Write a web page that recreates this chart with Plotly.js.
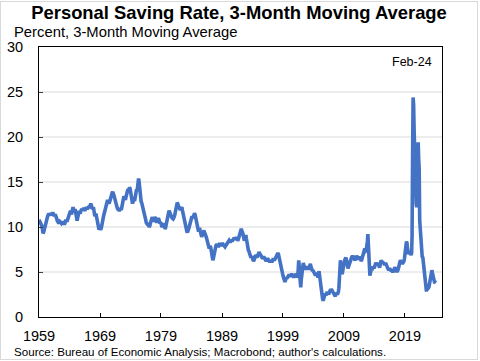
<!DOCTYPE html>
<html>
<head>
<meta charset="utf-8">
<script src="https://cdn.plot.ly/plotly-3.0.1.min.js"></script>
<style>
  html, body { margin: 0; padding: 0; background: #ffffff; }
  #wrap { position: relative; width: 480px; height: 361px; overflow: hidden; }
  #chart { position: absolute; left: 0; top: 0; width: 480px; height: 361px; }
  #frame { position: absolute; left: 0; top: 1px; width: 476px; height: 357px; border: 1px solid #d9d9d9; pointer-events: none; }
</style>
</head>
<body>
<div id="wrap"><div id="chart"></div><div id="frame"></div></div>
<script>
// Personal saving rate, 3-month moving average, monthly, starting Jan 1959
const startYear = 1959;
const rate1959to1968 = [
  10.8,10.7,10.6,10.5,10.4,10.2,10.0,9.6,9.3,9.4,9.6,9.9,
  10.2,10.4,10.6,10.8,11.0,11.2,11.3,11.5,11.4,11.3,11.4,11.5,
  11.4,11.3,11.5,11.6,11.5,11.4,11.2,11.3,11.4,11.3,11.1,10.9,
  10.7,10.6,10.5,10.4,10.5,10.6,10.5,10.4,10.4,10.5,10.6,10.5,
  10.5,10.4,10.3,10.4,10.6,10.8,10.7,10.6,10.8,11.0,11.2,11.3,
  11.4,11.6,11.8,11.6,11.4,11.7,12.0,12.2,11.9,11.6,11.8,12.0,
  11.6,11.2,10.8,10.7,11.0,11.4,11.7,11.8,11.6,11.5,11.7,11.9,
  12.0,11.9,11.8,12.0,12.1,12.0,11.8,11.9,12.1,12.2,12.1,12.0,
  12.1,12.2,12.3,12.1,12.2,12.5,12.6,12.4,12.2,12.0,12.1,12.2,
  11.9,11.5,11.2,11.3,11.5,11.2,10.8,10.4,10.0,9.8,9.7,9.9
];
const rate1969to1978 = [
  9.8,9.7,9.8,10.0,10.2,10.5,10.9,11.2,11.4,11.6,11.9,12.2,
  12.4,12.6,12.8,13.0,12.9,12.7,12.6,12.8,13.1,13.3,13.5,13.7,
  13.8,13.9,13.8,13.6,13.4,13.2,12.9,12.6,12.4,12.2,12.1,12.0,
  12.0,11.9,11.8,11.9,12.1,12.0,11.9,12.2,12.6,12.9,13.2,13.4,
  13.3,13.1,13.0,13.3,13.6,13.9,14.1,14.2,14.0,14.2,14.4,14.3,
  14.0,13.6,13.2,12.8,12.6,12.8,13.1,13.0,12.9,13.2,13.6,14.0,
  14.2,14.0,14.3,14.9,15.4,15.0,14.2,13.5,13.0,12.8,12.7,12.5,
  12.3,12.1,11.8,11.5,11.3,11.1,10.8,10.5,10.3,10.2,10.2,10.3,
  10.2,10.0,10.1,10.4,10.7,10.9,11.0,11.1,10.8,10.6,10.7,10.9,
  11.1,11.0,10.8,10.6,10.5,10.7,10.9,11.0,10.8,10.6,10.4,10.5
];
const rate1979to1988 = [
  10.4,10.2,10.0,10.1,10.3,10.4,10.2,10.0,9.8,9.9,10.2,10.6,
  10.9,11.2,11.4,11.6,11.8,11.6,11.4,11.3,11.2,11.1,11.0,10.9,
  10.9,11.0,11.1,11.3,11.6,11.9,12.2,12.5,12.7,12.6,12.4,12.2,
  12.1,12.0,11.9,12.0,12.1,12.2,11.9,11.6,11.2,10.9,10.6,10.3,
  10.0,9.8,9.6,9.5,9.4,9.5,9.7,9.9,10.2,10.5,10.8,11.0,
  11.1,11.2,11.1,11.0,11.2,11.4,11.5,11.4,11.2,10.9,10.6,10.3,
  10.0,9.7,9.5,9.7,9.9,9.6,9.3,9.0,8.9,9.1,9.3,9.5,
  9.6,9.5,9.4,9.3,9.1,8.9,8.7,8.5,8.2,7.9,7.7,7.6,
  7.8,7.9,7.7,7.2,6.7,6.4,6.3,6.5,6.9,7.3,7.6,7.8,
  7.9,8.0,8.1,8.0,7.9,7.8,7.9,8.1,8.2,8.0,7.9,8.0
];
const rate1989to1998 = [
  8.1,8.2,8.1,8.0,7.9,7.8,7.8,7.9,8.0,8.1,8.2,8.3,
  8.3,8.4,8.5,8.4,8.3,8.4,8.6,8.5,8.4,8.5,8.6,8.7,
  8.8,8.7,8.6,8.7,8.9,8.8,8.6,8.5,8.6,8.8,9.0,9.2,
  9.4,9.7,9.8,9.6,9.5,9.3,9.0,8.7,8.5,8.6,8.9,9.1,
  8.7,8.2,7.8,7.6,7.4,7.3,7.0,6.8,6.7,6.6,6.7,6.8,
  6.5,6.3,6.2,6.3,6.5,6.6,6.8,6.9,6.7,6.6,6.8,7.0,
  7.1,7.2,7.1,7.0,6.9,6.8,6.7,6.6,6.5,6.6,6.7,6.6,
  6.5,6.4,6.3,6.2,6.3,6.4,6.5,6.4,6.3,6.2,6.1,6.2,
  6.3,6.2,6.1,6.2,6.4,6.5,6.4,6.3,6.4,6.5,6.6,6.8,
  6.9,7.0,7.1,7.0,6.7,6.4,6.1,5.8,5.4,5.0,4.8,4.7
];
const rate1999to2008 = [
  4.6,4.4,4.2,4.0,3.9,4.1,4.3,4.4,4.3,4.4,4.5,4.6,
  4.7,4.6,4.5,4.6,4.7,4.8,4.7,4.6,4.5,4.4,4.5,4.6,
  4.6,4.7,4.8,4.6,4.4,4.5,5.3,6.3,5.6,4.6,3.6,3.3,
  4.2,5.0,5.6,5.9,6.0,5.8,5.6,5.4,5.3,5.4,5.5,5.6,
  5.5,5.4,5.3,5.4,5.6,5.8,5.9,5.6,5.3,5.2,5.1,5.2,
  5.1,5.0,4.8,4.7,4.6,4.8,4.9,4.7,4.5,4.4,4.8,5.1,
  4.6,4.0,3.4,3.0,2.6,2.3,2.0,1.8,2.0,2.3,2.5,2.6,
  2.5,2.4,2.6,2.8,2.7,2.6,2.5,2.7,2.9,3.0,3.1,3.0,
  3.0,2.9,2.8,2.7,2.6,2.5,2.4,2.3,2.5,2.7,2.6,2.5,
  2.6,2.8,3.2,3.9,5.2,6.3,5.9,5.2,4.8,4.9,5.3,5.8
];
const rate2009to2018 = [
  6.2,6.3,6.4,6.5,6.6,6.3,5.8,5.5,5.4,5.6,5.8,6.0,
  6.3,6.4,6.5,6.6,6.7,6.8,6.7,6.6,6.5,6.4,6.3,6.5,
  6.7,6.8,6.7,6.5,6.4,6.5,6.6,6.7,6.5,6.3,6.2,6.4,
  6.6,6.9,7.0,7.2,7.4,7.6,7.5,7.4,7.5,7.8,8.4,9.2,
  8.0,6.5,4.8,4.6,4.9,5.2,5.3,5.2,5.4,5.6,5.5,5.4,
  5.5,5.7,5.9,6.0,5.9,5.8,5.9,6.0,5.8,5.6,5.5,5.7,
  6.0,6.3,6.2,6.1,6.0,6.1,6.0,5.9,5.8,5.9,6.0,5.9,
  5.7,5.5,5.4,5.3,5.2,5.3,5.4,5.3,5.2,5.1,5.2,5.1,
  5.0,5.1,5.2,5.4,5.5,5.4,5.3,5.2,5.0,5.1,5.2,5.3,
  5.6,5.9,6.1,6.3,6.2,6.0,6.0,5.9,6.0,6.1,6.2,6.5
];
const rate2019to2024 = [
  7.0,7.6,8.0,8.4,8.2,7.6,7.2,7.0,7.1,7.2,7.1,7.0,
  6.9,7.1,9.0,17.7,24.4,23.6,20.8,17.5,15.9,14.2,12.6,12.2,
  15.2,15.5,19.4,17.5,16.4,10.7,9.7,9.1,8.3,7.3,6.6,6.7,
  6.2,5.4,4.8,4.1,3.5,3.2,3.0,3.0,3.1,3.0,3.1,3.3,
  3.6,4.1,4.5,4.8,5.0,5.2,4.9,4.5,4.2,4.0,3.9,3.9,
  3.8,3.8
];
const yTickVals = [0, 5, 10, 15, 20, 25, 30];
const xTickYears = [1959, 1969, 1979, 1989, 1999, 2009, 2019];

const titleText = 'Personal Saving Rate, 3-Month Moving Average';
const unitText = 'Percent, 3-Month Moving Average';
const sourceText = "Source: Bureau of Economic Analysis; Macrobond; author's calculations.";
const lastLabel = 'Feb-24';

const rates = [].concat(rate1959to1968, rate1969to1978, rate1979to1988,
  rate1989to1998, rate1999to2008, rate2009to2018, rate2019to2024);
const dates = rates.map((_, i) => {
  const y = startYear + Math.floor(i / 12);
  const m = (i % 12) + 1;
  return y + '-' + String(m).padStart(2, '0') + '-01';
});

const FONT = 'Arial, "Liberation Sans", sans-serif';

const trace = {
  x: dates, y: rates, type: 'scatter', mode: 'lines',
  line: { color: '#4472C4', width: 3.6 },
  hoverinfo: 'skip'
};

const layout = {
  width: 480, height: 361,
  margin: { l: 39, r: 38, t: 47, b: 44, pad: 0 },
  paper_bgcolor: '#ffffff', plot_bgcolor: '#ffffff',
  showlegend: false,
  font: { family: FONT, color: '#000000', size: 14 },
  title: {
    text: '<b>' + titleText + '</b>',
    font: { family: FONT, size: 18.4, color: '#000000' },
    x: 0.498, xref: 'container', xanchor: 'center',
    y: 1 - 13 / 361, yref: 'container', yanchor: 'middle'
  },
  xaxis: {
    type: 'date',
    range: ['1959-01-01', '2025-01-26'],
    tickmode: 'array',
    tickvals: xTickYears.map(y => y + '-01-01'),
    ticktext: xTickYears.map(String),
    ticks: 'inside', ticklen: 4, tickwidth: 1, tickcolor: '#000000',
    showline: true, linecolor: '#000000', linewidth: 1, mirror: true,
    showgrid: false, zeroline: false,
    tickfont: { family: FONT, size: 14.5, color: '#000000' },
    ticklabelstandoff: 6
  },
  yaxis: {
    range: [0, 30],
    tickmode: 'array', tickvals: yTickVals, ticktext: yTickVals.map(String),
    ticks: 'inside', ticklen: 4, tickwidth: 1, tickcolor: '#404040',
    showline: true, linecolor: '#000000', linewidth: 1, mirror: true,
    showgrid: true, gridcolor: '#ededed', gridwidth: 1.5,
    zeroline: false,
    tickfont: { family: FONT, size: 14.5, color: '#000000' },
    ticklabelstandoff: 12
  },
  annotations: [
    { text: unitText, xref: 'paper', yref: 'paper',
      x: (12 - 39) / 403, y: (317.3 - 31) / 270.8, xanchor: 'left', yanchor: 'middle',
      showarrow: false, font: { family: FONT, size: 14.8, color: '#000000' } },
    { text: sourceText, xref: 'paper', yref: 'paper',
      x: (12 - 39) / 403, y: (317.3 - 352) / 270.8, xanchor: 'left', yanchor: 'middle',
      showarrow: false, font: { family: FONT, size: 11.6, color: '#000000' } },
    { text: lastLabel, xref: 'paper', yref: 'paper',
      x: (434 - 39) / 403, y: (317.3 - 62) / 270.8, xanchor: 'right', yanchor: 'middle',
      showarrow: false, font: { family: FONT, size: 12.5, color: '#000000' } }
  ]
};

Plotly.newPlot('chart', [trace], layout, { staticPlot: true, displayModeBar: false });
</script>
</body>
</html>
